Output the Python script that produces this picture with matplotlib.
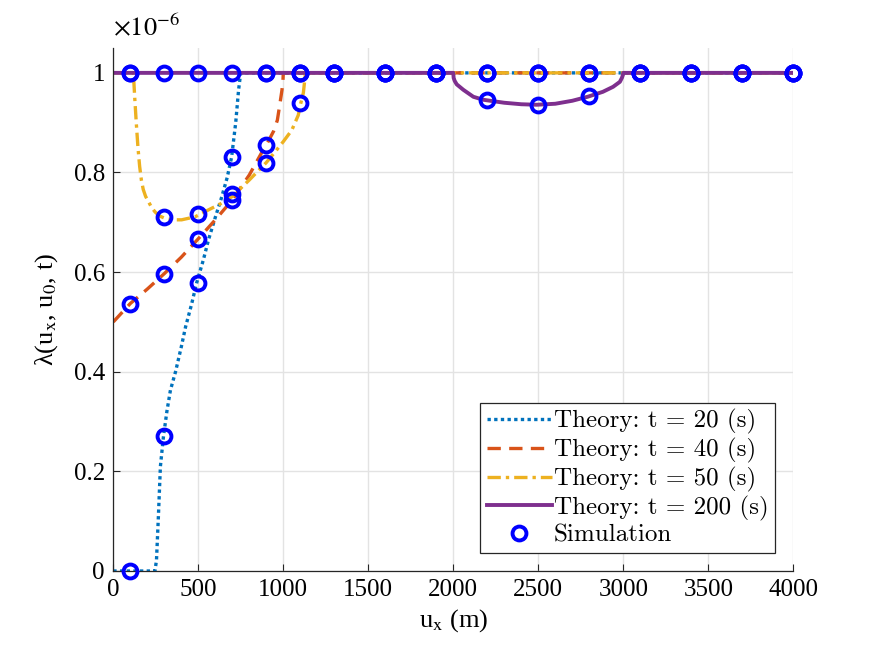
import matplotlib
matplotlib.use("Agg")
import matplotlib.pyplot as plt
from matplotlib.ticker import FuncFormatter

plt.rcParams['font.family'] = ['Liberation Serif', 'DejaVu Serif']
plt.rcParams['mathtext.fontset'] = 'stix'

# values in units of 1e-6
# theory t = 20 s
t20_x = [0, 236, 245, 254, 265, 277, 295, 315, 336, 366, 400, 425, 460, 490, 530, 560, 600, 637, 670, 696, 720, 737, 748, 752, 1000, 2000, 3000, 4000]
t20_y = [0, 0, 0.0, 0.022, 0.108, 0.21, 0.27, 0.32, 0.363, 0.40, 0.45, 0.49, 0.535, 0.578, 0.625, 0.665, 0.71, 0.75, 0.79, 0.831, 0.9, 0.966, 0.996, 1, 1, 1, 1, 1]
# theory t = 40 s
t40_x = [0, 100, 200, 300, 400, 500, 600, 700, 800, 873, 900, 943, 965, 981, 992, 998, 1000, 2000, 3000, 4000]
t40_y = [0.5, 0.537, 0.566, 0.597, 0.63, 0.667, 0.705, 0.745, 0.795, 0.84, 0.855, 0.883, 0.905, 0.94, 0.965, 0.985, 1, 1, 1, 1]
# theory t = 50 s
t50_x = [0, 118, 126, 135, 145, 155, 165, 176, 190, 206, 225, 245, 270, 304, 350, 402, 481, 560, 630, 700, 800, 900, 960, 1000, 1050, 1088, 1100, 1118, 1126, 1130, 2000, 3000, 4000]
t50_y = [1, 1, 0.95, 0.9, 0.85, 0.812, 0.785, 0.766, 0.752, 0.742, 0.73, 0.721, 0.713, 0.708, 0.705, 0.705, 0.711, 0.725, 0.737, 0.752, 0.785, 0.82, 0.845, 0.862, 0.885, 0.915, 0.935, 0.96, 0.985, 1, 1, 1, 1]
# theory t = 200 s
t200_x = [0, 2000, 2002, 2008, 2020, 2059, 2118, 2176, 2300, 2400, 2490, 2600, 2700, 2790, 2880, 2940, 2980, 2992, 2998, 3000, 4000]
t200_y = [1, 1, 0.99, 0.984, 0.977, 0.966, 0.952, 0.946, 0.94, 0.937, 0.936, 0.938, 0.944, 0.952, 0.962, 0.972, 0.982, 0.99, 0.996, 1, 1]

# simulation
sim_x = [100, 300, 500, 700, 900, 1100, 1300, 1600, 1900, 2200, 2500, 2800, 3100, 3400, 3700, 4000]
sim_t20 = [0, 0.271, 0.578, 0.831, 1, 1, 1, 1, 1, 1, 1, 1, 1, 1, 1, 1]
sim_t40 = [0.537, 0.596, 0.667, 0.745, 0.855, 1, 1, 1, 1, 1, 1, 1, 1, 1, 1, 1]
sim_t50 = [1, 0.711, 0.716, 0.757, 0.82, 0.94, 1, 1, 1, 1, 1, 1, 1, 1, 1, 1]
sim_t200 = [1, 1, 1, 1, 1, 1, 1, 1, 1, 0.946, 0.936, 0.953, 1, 1, 1, 1]

labels = ['Theory: t = 20 (s)', 'Theory: t = 40 (s)', 'Theory: t = 50 (s)', 'Theory: t = 200 (s)']
colors = ['#0072BD', '#D95319', '#EDB120', '#7E2F8E']

fig = plt.figure(figsize=(8.75, 6.57), dpi=100)
ax = fig.add_axes([0.1295, 0.1309, 0.7771, 0.7961])

ax.plot(t20_x, t20_y, color=colors[0], lw=2.4, ls=(0, (1, 1)), label=labels[0])
ax.plot(t40_x, t40_y, color=colors[1], lw=2.4, ls=(0, (4, 2.5)), label=labels[1])
ax.plot(t50_x, t50_y, color=colors[2], lw=2.4, ls=(0, (4, 1.5, 1, 1.5)), label=labels[2])
ax.plot(t200_x, t200_y, color=colors[3], lw=2.8, ls='-', label=labels[3])

sim_all_x = sim_x * 4
sim_all_y = sim_t20 + sim_t40 + sim_t50 + sim_t200
ax.plot(sim_all_x, sim_all_y, ls='none', marker='o', ms=10, mfc='none', mec='#0000FF', mew=2.8,
        label='Simulation', clip_on=False, zorder=5)

ax.set_xlim(0, 4000)
ax.set_ylim(0, 1.05)
ax.set_xticks(range(0, 4001, 500))
ax.set_yticks([0, 0.2, 0.4, 0.6, 0.8, 1.0])
ax.yaxis.set_major_formatter(FuncFormatter(lambda v, p: '%g' % round(v, 2)))
ax.tick_params(direction='in', length=5, labelsize=18, color='#262626', pad=6)
ax.grid(True, color='#e3e3e3', lw=1)
ax.set_axisbelow(True)
for s in ['top', 'right']:
    ax.spines[s].set_visible(False)
for s in ['left', 'bottom']:
    ax.spines[s].set_color('#262626')
    ax.spines[s].set_linewidth(0.9)

ax.set_xlabel(r'u$_\mathrm{x}$ (m)', fontsize=19, labelpad=4)
ax.set_ylabel(r'λ(u$_\mathrm{x}$, u$_\mathrm{0}$, t)', fontsize=19, labelpad=10)
ax.text(0.0, 1.015, r'$\times\mathrm{10^{-6}}$', transform=ax.transAxes, fontsize=19, ha='left', va='bottom')

leg = ax.legend(loc='lower right', bbox_to_anchor=(0.973, 0.034), prop={'family': 'cmr10', 'size': 18},
                fancybox=False, edgecolor='#262626', framealpha=1, handlelength=2.6,
                handletextpad=0.1, labelspacing=0.15, borderpad=0.25, borderaxespad=0)
leg.get_frame().set_linewidth(0.9)

plt.savefig('out.png', dpi=100)
